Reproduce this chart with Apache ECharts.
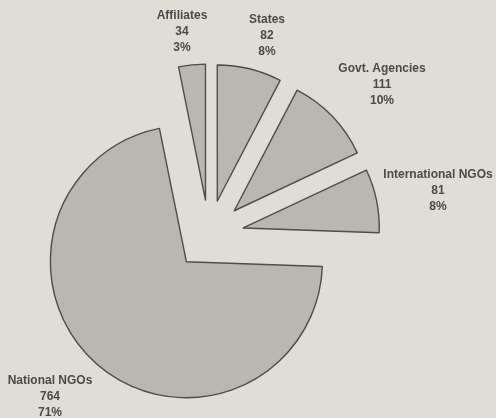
<!DOCTYPE html>
<html>
<head>
<meta charset="utf-8">
<script src="https://cdn.jsdelivr.net/npm/echarts@6/dist/echarts.min.js"></script>
<style>
  html, body { margin: 0; padding: 0; background: #dfddd6; }
  #chart { width: 496px; height: 418px; }
</style>
</head>
<body>
<div id="chart"></div>
<script>
// data
var categories = ['National NGOs', 'Affiliates', 'States', 'Govt. Agencies', 'International NGOs'];
var counts = [764, 34, 82, 111, 81];

// where each label block sits (centre of the text)
var labelAnchors = [[50, 397], [182, 32], [267, 36], [382, 85], [438, 191]];

var pieOffset = 35;
var startDeg = -2;

// the selected state moves the label with its slice after labelLayout runs,
// so take that shift back out here
var total = counts.reduce(function (a, b) { return a + b; }, 0);
var shifts = [];
var acc = 0;
counts.forEach(function (v) {
    var mid = (acc + v / 2) / total * Math.PI * 2 - startDeg * Math.PI / 180;
    shifts.push([Math.cos(mid) * pieOffset, Math.sin(mid) * pieOffset]);
    acc += v;
});

var chart = echarts.init(document.getElementById('chart'));

var sliceStyle = {
    color: '#b8b8b0',
    borderColor: '#4d4d4b',
    borderWidth: 1.4
};

var option = {
    backgroundColor: '#dfddd6',
    animation: false,
    series: [{
        type: 'pie',
        center: [209, 235],
        radius: 136,
        startAngle: startDeg,
        clockwise: true,
        selectedMode: 'multiple',
        selectedOffset: pieOffset,
        percentPrecision: 0,
        avoidLabelOverlap: false,
        itemStyle: sliceStyle,
        label: {
            show: true,
            position: 'outside',
            formatter: '{t|{b}}\n{t|{c}}\n{t|{d}%}',
            rich: {
                t: {
                    align: 'center',
                    fontFamily: 'Liberation Sans, Arial, sans-serif',
                    fontWeight: 'bold',
                    fontSize: 12,
                    lineHeight: 16,
                    color: '#4a4a4a'
                }
            }
        },
        labelLine: { show: false },
        labelLayout: function (params) {
            var i = params.dataIndex;
            var p = labelAnchors[i];
            var r = params.labelRect;
            return {
                dx: p[0] - (r.x + r.width / 2) - shifts[i][0],
                dy: p[1] - (r.y + r.height / 2) - shifts[i][1]
            };
        },
        emphasis: { disabled: true },
        select: { disabled: false, itemStyle: sliceStyle },
        data: categories.map(function (name, i) {
            return { name: name, value: counts[i], selected: true };
        })
    }]
};

chart.setOption(option);
</script>
</body>
</html>
